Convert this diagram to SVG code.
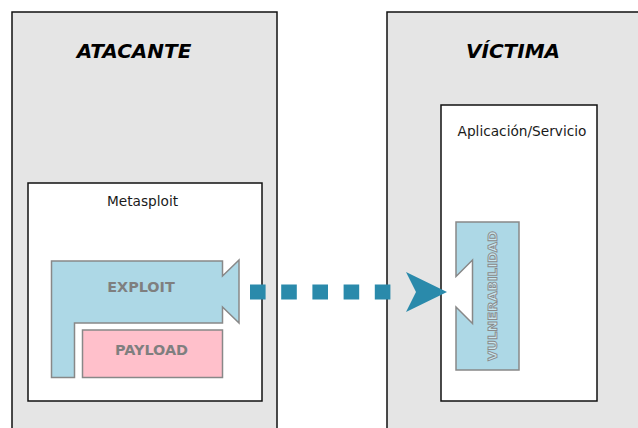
<svg xmlns="http://www.w3.org/2000/svg" width="638" height="428" viewBox="0 0 638 428">
<style>
.zone{fill:#e5e5e5;stroke:#111;stroke-width:1.5}
.box{fill:#fff;stroke:#111;stroke-width:1.5}
.title{font-family:"DejaVu Sans",sans-serif;font-weight:bold;font-style:italic;font-size:20px;fill:#000;text-anchor:middle}
.lbl{font-family:"DejaVu Sans",sans-serif;font-size:13.7px;fill:#1a1a1a;text-anchor:middle}
.blue{fill:#add8e6;stroke:#888;stroke-width:1.5}
.pink{fill:#ffc0cb;stroke:#888;stroke-width:1.5}
.btxt{font-family:"DejaVu Sans",sans-serif;font-weight:bold;font-size:14.4px;fill:#7f7f7f;text-anchor:middle}
</style>
<g id="atacante">
<rect class="zone" x="12" y="12" width="265" height="430"/>
<text class="title" x="134" y="58.3">ATACANTE</text>
</g>
<g id="victima">
<rect class="zone" x="387" y="12" width="265" height="430"/>
<text class="title" x="513" y="58.3">VÍCTIMA</text>
</g>
<g id="metasploit">
<rect class="box" x="28" y="183" width="234" height="218"/>
<text class="lbl" x="142.5" y="206">Metasploit</text>
</g>
<g id="aplicacion">
<rect class="box" x="441" y="105" width="156" height="296"/>
<text class="lbl" x="522" y="136">Aplicación/Servicio</text>
</g>
<g id="exploit">
<polygon class="blue" points="51.5,261 222.5,261 222.5,276 239,260 239,323 222.5,307 222.5,323 74.5,323 74.5,377.5 51.5,377.5"/>
<text class="btxt" x="141" y="291.5">EXPLOIT</text>
</g>
<g id="payload">
<rect class="pink" x="82.5" y="330" width="140" height="47.5"/>
<text class="btxt" x="151.5" y="354.5">PAYLOAD</text>
</g>
<g id="vulnerabilidad">
<polygon class="blue" points="456,222 519,222 519,370 456,370 456,307 472.5,323.5 472.5,260 456,276.5"/>
<text x="0" y="0" transform="translate(496.5,296) rotate(-90)" font-family="DejaVu Sans,sans-serif" font-weight="bold" font-size="12.5" fill="#c8e6f0" stroke="#8a8a8a" stroke-width="0.9" text-anchor="middle" textLength="130" lengthAdjust="spacingAndGlyphs">VULNERABILIDAD</text>
</g>
<g id="connectors">
<line x1="250" y1="292" x2="406" y2="292" stroke="#2a8aab" stroke-width="15" stroke-dasharray="15.6 15.6"/>
<polygon points="406,272 447,292 406,312 416,292" fill="#2a8aab"/>
</g>
</svg>
